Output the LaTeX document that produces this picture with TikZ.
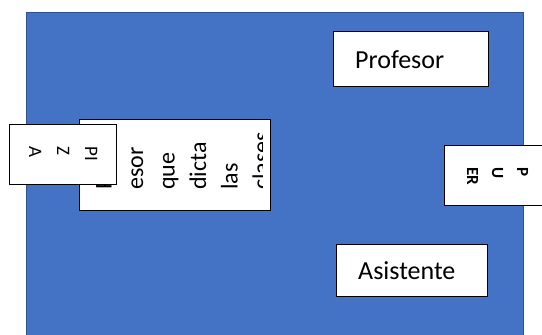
\documentclass[tikz,border=0pt]{standalone}
\usepackage{fontspec}
\setmainfont{Carlito}
\definecolor{fillblue}{HTML}{4472C4}
\definecolor{edgeblue}{HTML}{2F528F}
\tikzset{
  panel/.style={fill=fillblue, draw=edgeblue, line width=1.5pt},
  wbox/.style={fill=white, draw=black, line width=1.3pt, inner sep=0pt, anchor=north west},
  lbl/.style={anchor=base west, inner sep=0pt, font=\fontsize{26}{31}\selectfont},
  vtxt/.style={anchor=base west, inner sep=0pt, rotate=90, font=\fontsize{24}{29}\selectfont},
  ptxt/.style={anchor=base west, inner sep=0pt, rotate=-90, font=\fontsize{19}{23}\selectfont},
  dtxt/.style={anchor=base west, inner sep=0pt, rotate=-90, font=\bfseries\fontsize{17}{20}\selectfont},
}
\begin{document}
\begin{tikzpicture}[x=1pt,y=1pt]
\useasboundingbox (0,0) rectangle (542,-335);
% blue panel
\draw[panel] (26.5,-12.5) rectangle (523.5,-345);
% Profesor
\node[wbox, minimum width=155pt, minimum height=55pt] (prof) at (333,-31) {};
\node[lbl] (proft) at (355,-68) {Profesor};
% Asistente
\node[wbox, minimum width=151pt, minimum height=52pt] (asis) at (336,-244) {};
\node[lbl] (asist) at (358,-279) {Asistente};
% PUER box
\node[wbox, minimum width=106pt, minimum height=60pt] (puer) at (444,-145) {};
\node[dtxt] (pu1) at (517,-167) {P};
\node[dtxt] (pu2) at (492,-167) {U};
\node[dtxt] (pu3) at (467,-167) {ER};
% description box
\node[wbox, minimum width=191pt, minimum height=91pt] (desc) at (79,-119) {};
\begin{scope}
\clip (80,-120) rectangle (262,-209);
\node[vtxt] (d1) at (111.5,-190) {Prof};
\node[vtxt] (d2) at (143,-190) {esor};
\node[vtxt] (d3) at (174.5,-190) {que};
\node[vtxt] (d4) at (206,-190) {dicta};
\node[vtxt] (d5) at (237.5,-190) {las};
\node[vtxt] (d6) at (269,-190) {clases};
\end{scope}
% PIZA box
\node[wbox, minimum width=107pt, minimum height=60pt] (piza) at (9,-124) {};
\node[ptxt] (p1) at (85,-146) {PI};
\node[ptxt] (p2) at (57,-146) {Z};
\node[ptxt] (p3) at (29,-146) {A};
\end{tikzpicture}
\end{document}
